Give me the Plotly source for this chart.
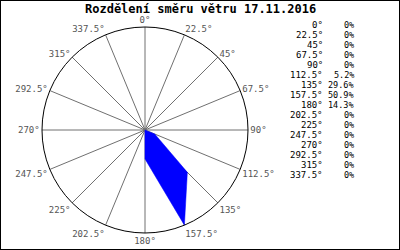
import plotly.graph_objects as go

directions = [0, 22.5, 45, 67.5, 90, 112.5, 135, 157.5, 180, 202.5, 225, 247.5, 270, 292.5, 315, 337.5]
dir_labels = ["0°", "22.5°", "45°", "67.5°", "90°", "112.5°", "135°", "157.5°", "180°",
              "202.5°", "225°", "247.5°", "270°", "292.5°", "315°", "337.5°"]
percent = [0, 0, 0, 0, 0, 5.2, 29.6, 50.9, 14.3, 0, 0, 0, 0, 0, 0, 0]
percent_labels = ["0%", "0%", "0%", "0%", "0%", "5.2%", "29.6%", "50.9%", "14.3%",
                  "0%", "0%", "0%", "0%", "0%", "0%", "0%"]
title_text = "Rozdělení směru větru 17.11.2016"

MONO = "DejaVu Sans Mono"

fig = go.Figure()
fig.add_trace(go.Scatterpolar(
    r=percent + [percent[0]],
    theta=directions + [directions[0]],
    mode="lines",
    fill="toself",
    fillcolor="#0000ff",
    line=dict(color="#0000ff", width=0.5),
    hoverinfo="skip",
    showlegend=False,
))

annotations = [dict(
    text="<b>" + title_text + "</b>", x=0.5, y=1 - 9 / 250, xref="paper", yref="paper",
    xanchor="center", yanchor="middle", showarrow=False,
    font=dict(family=MONO, size=12, color="#000000"))]

for i, (dl, pl) in enumerate(zip(dir_labels, percent_labels)):
    yy = 1 - (25 + i * 10.0) / 250
    annotations.append(dict(text=dl, x=325 / 400, y=yy, xref="paper", yref="paper",
                            xanchor="right", yanchor="middle", showarrow=False,
                            font=dict(family=MONO, size=9, color="#000000")))
    annotations.append(dict(text=pl, x=356 / 400, y=yy, xref="paper", yref="paper",
                            xanchor="right", yanchor="middle", showarrow=False,
                            font=dict(family=MONO, size=8.5, color="#000000")))

fig.update_layout(
    width=400, height=250,
    margin=dict(l=0, r=0, t=0, b=0),
    paper_bgcolor="#ffffff",
    plot_bgcolor="#ffffff",
    showlegend=False,
    annotations=annotations,
    polar=dict(
        domain=dict(x=[42 / 400, 248 / 400], y=[1 - 233 / 250, 1 - 27 / 250]),
        bgcolor="#ffffff",
        radialaxis=dict(range=[0, max(percent)], visible=False, showgrid=False),
        angularaxis=dict(
            rotation=90, direction="clockwise",
            tickmode="array", tickvals=directions, ticktext=dir_labels,
            ticks="", showline=True, linecolor="#000000", linewidth=1,
            showgrid=True, gridcolor="#707070", gridwidth=1,
            tickfont=dict(family=MONO, size=9, color="#555555"),
        ),
    ),
    shapes=[dict(type="rect", xref="paper", yref="paper", x0=0, y0=0, x1=1, y1=1,
                 line=dict(color="#000000", width=2), fillcolor="rgba(0,0,0,0)")],
)

fig.write_html("out.html")
